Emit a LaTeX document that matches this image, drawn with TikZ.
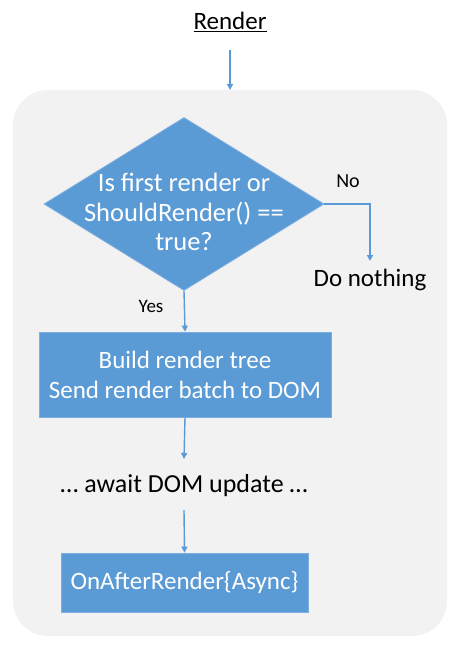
\documentclass[tikz,border=0pt]{standalone}
\usepackage{fontspec}
\setmainfont{Carlito}
\usetikzlibrary{shapes.geometric,arrows.meta}
\definecolor{boxblue}{HTML}{5B9BD5}
\definecolor{boxedge}{HTML}{7DAEE0}
\definecolor{panel}{HTML}{F2F2F2}
\begin{document}
\begin{tikzpicture}[x=1pt, y=-1pt,
    flow/.style={draw=boxblue, line width=1.4pt, -{Triangle[length=6pt,width=6pt]}},
    stepbox/.style={rectangle, fill=boxblue, draw=boxedge, line width=0.8pt, text=white, align=center},
    plain/.style={text=black, inner sep=1pt}]
    \useasboundingbox (0,0) rectangle (461,650);
    \fill[panel, rounded corners=35pt] (13,90) rectangle (447,636);
    \node[plain, font=\fontsize{25}{30}\selectfont] (title) at (230,22) {\underline{Render}};
    \coordinate (titlefoot) at (230,50);
    \coordinate (entry) at (230,90);
    \node[diamond, fill=boxblue, draw=boxedge, line width=0.8pt, minimum width=280pt, minimum height=173pt, inner sep=0pt] (check) at (184,204) {};
    \node[text=white, align=center, font=\fontsize{26.5}{29.5}\selectfont] (checktext) at (184,212) {Is first render or\\ShouldRender() ==\\true?};
    \node[plain, font=\fontsize{20}{24}\selectfont] (no) at (348,181) {No};
    \node[plain, font=\fontsize{25}{30}\selectfont] (nothing) at (370,280) {Do nothing};
    \node[plain, font=\fontsize{19}{23}\selectfont] (yes) at (151,306) {Yes};
    \node[stepbox, minimum width=292pt, minimum height=85pt, font=\fontsize{25}{30}\selectfont] (build) at (185,374.5) {Build render tree\\Send render batch to DOM};
    \node[plain, font=\fontsize{26}{30}\selectfont] (await) at (184,486) {\dots\ await DOM update \dots};
    \node[stepbox, minimum width=247pt, minimum height=59pt, font=\fontsize{25}{30}\selectfont] (after) at (184.5,582.5) {OnAfterRender\{Async\}};
    \coordinate (nothingtop) at (370,261);
    \coordinate (awaittop) at (184,459);
    \coordinate (awaitfoot) at (184,510);
    \draw[flow] (titlefoot) -- (entry);
    \draw[flow] (check.east) -| (nothingtop);
    \draw[flow] (check.south) -- (build.north);
    \draw[flow] (build.south) -- (awaittop);
    \draw[flow] (awaitfoot) -- (after.north);
\end{tikzpicture}
\end{document}
